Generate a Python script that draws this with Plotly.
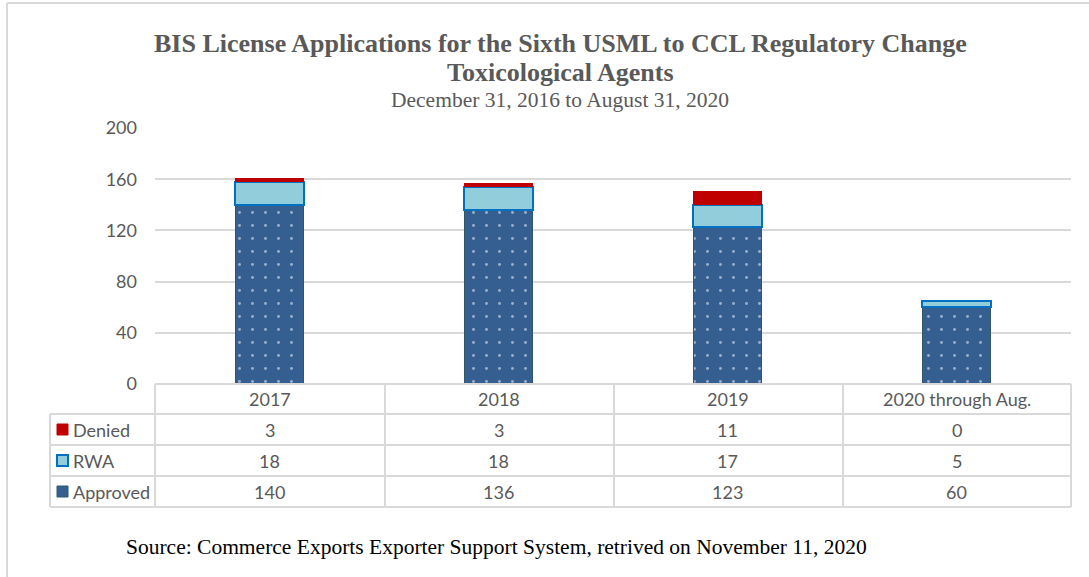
import plotly.graph_objects as go

# data
categories = ["2017", "2018", "2019", "2020 through Aug."]
approved = [140, 136, 123, 60]
rwa = [18, 18, 17, 5]
denied = [3, 3, 11, 0]
series_names = ["Denied", "RWA", "Approved"]
y_ticks = [0, 40, 80, 120, 160, 200]

W, H = 1089, 577
PL, PR, PT, PB = 155, 1071, 128, 384  # plot area in pixels

GRID = "#D9D9D9"
AXIS_TXT = "#595959"
SANS = "Lato, Arial, sans-serif"
SERIF = "Liberation Serif, Times New Roman, serif"


def px(x):
    return (x - PL) / (PR - PL)


def py(y):
    return (PB - y) / (PB - PT)


fig = go.Figure()
fig.add_trace(go.Bar(
    x=categories, y=approved, name="Approved",
    marker=dict(
        color="#365F91",
        line=dict(color="#2E5868", width=1.5),
        pattern=dict(shape=".", fgcolor="white", bgcolor="#365F91", size=13, solidity=0.04),
    ),
))
fig.add_trace(go.Bar(
    x=categories, y=rwa, name="RWA",
    marker=dict(color="#92CDDC", line=dict(color="#0070C0", width=2)),
))
fig.add_trace(go.Bar(
    x=categories, y=denied, name="Denied",
    marker=dict(color="#C00000", line=dict(width=0)),
))

shapes = []
line = dict(color=GRID, width=2)
# outer frame (left + top edges)
shapes.append(dict(type="line", xref="paper", yref="paper", x0=px(7), x1=px(1100), y0=py(3), y1=py(3), line=line))
shapes.append(dict(type="line", xref="paper", yref="paper", x0=px(7), x1=px(7), y0=py(3), y1=py(600), line=line))

# data table grid
row_edges = [384, 414, 445, 476, 507]
col_edges = [155, 385, 614, 843, 1071]
for i, ry in enumerate(row_edges):
    x0 = PL if i == 0 else 50
    shapes.append(dict(type="line", xref="paper", yref="paper", x0=px(x0), x1=px(PR), y0=py(ry), y1=py(ry), line=line))
for cx in col_edges:
    shapes.append(dict(type="line", xref="paper", yref="paper", x0=px(cx), x1=px(cx), y0=py(384), y1=py(507), line=line))
shapes.append(dict(type="line", xref="paper", yref="paper", x0=px(50), x1=px(50), y0=py(414), y1=py(507), line=line))

annotations = []
header_y = (384 + 414) / 2
row_centers = [(row_edges[i] + row_edges[i + 1]) / 2 for i in range(1, 4)]
row_values = [denied, rwa, approved]
key_styles = [
    dict(fillcolor="#C00000", line=dict(color="#C00000", width=1)),
    dict(fillcolor="#92CDDC", line=dict(color="#0070C0", width=2)),
    dict(fillcolor="#365F91", line=dict(color="#2E5868", width=1)),
]
cell_font = dict(family=SANS, size=18, color=AXIS_TXT)

# category axes place annotations by category index
for i, cat in enumerate(categories):
    annotations.append(dict(x=i, xref="x", y=py(header_y), yref="paper", text=cat, showarrow=False,
                            yanchor="middle", font=cell_font))

for name, vals, cy, ks in zip(series_names, row_values, row_centers, key_styles):
    shapes.append(dict(type="rect", xref="paper", yref="paper", x0=px(57), x1=px(68),
                       y0=py(cy + 5.5), y1=py(cy - 5.5), **ks))
    annotations.append(dict(x=px(71), xref="paper", y=py(cy), yref="paper", text=name, showarrow=False,
                            xanchor="left", yanchor="middle", font=cell_font))
    for i, v in enumerate(vals):
        annotations.append(dict(x=i, xref="x", y=py(cy), yref="paper", text=str(v), showarrow=False,
                                yanchor="middle", font=cell_font))

# titles
annotations += [
    dict(x=px(560), y=py(43), xref="paper", yref="paper", showarrow=False, yanchor="middle",
         text="<b>BIS License Applications for the Sixth USML to CCL Regulatory Change</b>",
         font=dict(family=SERIF, size=26, color="#595959")),
    dict(x=px(560), y=py(72), xref="paper", yref="paper", showarrow=False, yanchor="middle",
         text="<b>Toxicological Agents</b>",
         font=dict(family=SERIF, size=26, color="#595959")),
    dict(x=px(560), y=py(100), xref="paper", yref="paper", showarrow=False, yanchor="middle",
         text="December 31, 2016 to August 31, 2020",
         font=dict(family=SERIF, size=21.5, color="#595959")),
    dict(x=px(124), y=py(547), xref="paper", yref="paper", showarrow=False, xanchor="left", yanchor="middle",
         text="Source: Commerce Exports Exporter Support System, retrived on November 11, 2020",
         font=dict(family=SERIF, size=21.5, color="#000000")),
]

fig.update_layout(
    width=W, height=H,
    margin=dict(l=PL, r=W - PR, t=PT, b=H - PB, pad=0),
    paper_bgcolor="white", plot_bgcolor="white",
    barmode="stack", bargap=0.703,
    showlegend=False,
    shapes=shapes, annotations=annotations,
    xaxis=dict(type="category", categoryorder="array", categoryarray=categories, range=[-0.5, 3.5],
               showticklabels=False, showgrid=False, showline=False, zeroline=False, ticks=""),
    yaxis=dict(range=[0, 200], tickvals=y_ticks, showgrid=True, gridcolor=GRID, gridwidth=1.5,
               zeroline=False, showline=False, ticks="", ticklabelstandoff=17,
               tickfont=dict(family=SANS, size=18, color=AXIS_TXT)),
)

# drop the default body margin so the figure sits at the window's corner
fig.write_html("out.html", config={"displayModeBar": False},
               post_script="document.body.style.margin='0';")
